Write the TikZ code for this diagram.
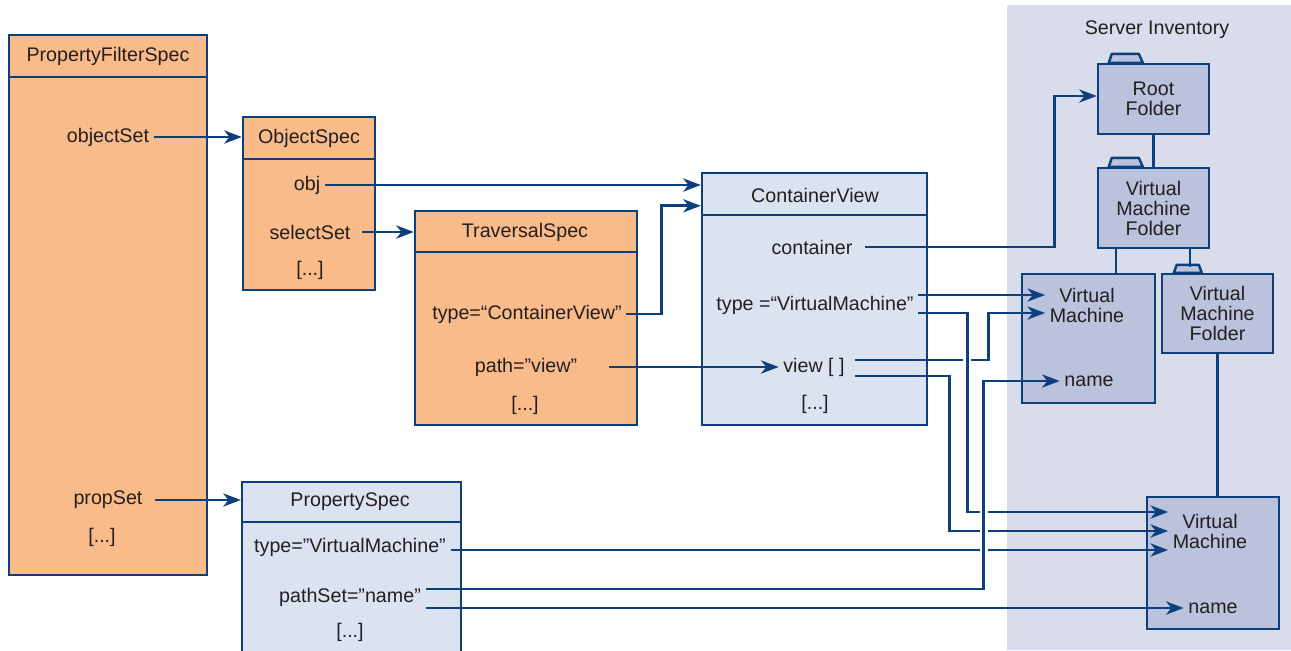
\documentclass[tikz,border=0pt]{standalone}
\usepackage{fontspec}
\setmainfont{Liberation Sans}
\usetikzlibrary{arrows.meta}

\begin{document}
\begin{tikzpicture}[x=0.02cm,y=-0.02cm,font=\fontsize{11.2}{11.4}\selectfont,
  every node/.style={text=textcolor,inner sep=2.5pt,align=center},
  classbox/.style={draw=linecolor,line width=1.4pt,inner sep=0pt},
  folder/.style={draw=linecolor,line width=1.4pt,fill=foldercolor,inner sep=0pt,minimum width=2.22cm},
  foldertab/.style={draw=linecolor,fill=foldercolor,line width=1.4pt,line join=round},
  bline/.style={draw=linecolor,line width=1.4pt},
  conn/.style={draw=linecolor,line width=1.5pt,-{Stealth[length=10pt,width=7.5pt,inset=3pt]}},
  halo/.style={draw=white,line width=4.5pt,shorten <=0.2cm,shorten >=0.2cm}]
\definecolor{linecolor}{RGB}{13,63,124}
\definecolor{textcolor}{RGB}{35,31,32}
\definecolor{orangecolor}{RGB}{249,187,137}
\definecolor{bluecolor}{RGB}{219,227,241}
\definecolor{invcolor}{RGB}{217,220,235}
\definecolor{foldercolor}{RGB}{186,194,220}
\useasboundingbox (0,0) rectangle (1291,650);
\clip (0,0) rectangle (1291,650);
\fill[invcolor] (1007,5) rectangle (1291,650);
\node (invtitle) at (1157,30) {Server Inventory};
\node[classbox,fill=orangecolor,minimum width=3.96cm,minimum height=10.8cm] (pfs) at (108,305) {};
\node[classbox,fill=orangecolor,minimum width=2.64cm,minimum height=3.46cm] (ospec) at (309,203.5) {};
\node[classbox,fill=orangecolor,minimum width=4.44cm,minimum height=4.28cm] (tspec) at (526,318) {};
\node[classbox,fill=bluecolor,minimum width=4.5cm,minimum height=5.04cm] (cview) at (814.5,299) {};
\node[classbox,fill=bluecolor,minimum width=4.38cm,minimum height=3.96cm] (pspec) at (351.5,581) {};
\draw[bline] ([yshift=-0.86cm]pfs.north west) -- ([yshift=-0.86cm]pfs.north east);
\draw[bline] ([yshift=-0.86cm]ospec.north west) -- ([yshift=-0.86cm]ospec.north east);
\draw[bline] ([yshift=-0.84cm]tspec.north west) -- ([yshift=-0.84cm]tspec.north east);
\draw[bline] ([yshift=-0.86cm]cview.north west) -- ([yshift=-0.86cm]cview.north east);
\draw[bline] ([yshift=-0.82cm]pspec.north west) -- ([yshift=-0.82cm]pspec.north east);
\node (pfstitle) at (108,56) {PropertyFilterSpec};
\node (objset) at (108,137) {objectSet};
\node (propset) at (108,500) {propSet};
\node (pfsmore) at (102,537) {[...]};
\node (ostitle) at (309,138) {ObjectSpec};
\node (objlbl) at (307,185) {obj};
\node (selset) at (310,232) {selectSet};
\node (osmore) at (310,270) {[...]};
\node (tstitle) at (525,232) {TraversalSpec};
\node (tstype) at (527,314) {type=“ContainerView”};
\node (tspath) at (526,367) {path=”view”};
\node (tsmore) at (525,405) {[...]};
\node (cvtitle) at (815,195) {ContainerView};
\node (cvcont) at (812,247) {container};
\node (cvtype) at (815,305) {type =“VirtualMachine”};
\node (cvview) at (814,367) {view [ ]};
\node (cvmore) at (815,404) {[...]};
\node (pstitle) at (350,502) {PropertySpec};
\node (pstype) at (350,547) {type=”VirtualMachine”};
\node (pspath) at (350,597) {pathSet=”name”};
\node (psmore) at (350,632) {[...]};
\node[folder,minimum height=1.4cm] (rootf) at (1153.5,99) {Root\\Folder};
\node[folder,minimum height=1.6cm] (vmf1) at (1153.5,208) {Virtual\\Machine\\Folder};
\node[folder,minimum height=1.58cm] (vmf2) at (1217.5,313.5) {Virtual\\Machine\\Folder};
\node[folder,minimum width=2.66cm,minimum height=2.58cm] (vm1) at (1088.5,338.5) {};
\node[folder,minimum width=2.64cm,minimum height=2.64cm] (vm2) at (1213,563) {};
\filldraw[foldertab] ([xshift=0.24cm]rootf.north west) -- ++(3,-9) -- ++(27,0) -- ++(4,9) -- cycle;
\filldraw[foldertab] ([xshift=0.24cm]vmf1.north west) -- ++(3,-9) -- ++(27,0) -- ++(4,9) -- cycle;
\filldraw[foldertab] ([xshift=0.26cm]vmf2.north west) -- ++(3,-8) -- ++(22,0) -- ++(3,8) -- cycle;
\draw[bline] (rootf.south) -- (vmf1.north);
\draw[bline] ([xshift=-0.75cm]vmf1.south) -- ++(0,26);
\draw[bline] ([xshift=0.73cm]vmf1.south) -- ++(0,18);
\draw[bline] (vmf2.south) -- (vmf2.south |- vm2.north);
\node (vm1lbl) at (1087,305) {Virtual\\Machine};
\node (vm1name) at (1089,381) {name};
\node (vm2lbl) at (1210,531) {Virtual\\Machine};
\node (vm2name) at (1213,608) {name};
\coordinate (tsbend) at ([xshift=-0.78cm,yshift=-0.68cm]cview.north west);
\coordinate (contbend) at ([xshift=-0.84cm,yshift=0.06cm]rootf.west);
\coordinate (cvtA) at ([yshift=0.2cm]cvtype.east);
\coordinate (cvtB) at ([yshift=-0.16cm]cvtype.east);
\coordinate (cvvA) at ([xshift=0.12cm,yshift=0.14cm]cvview.east);
\coordinate (cvvB) at ([xshift=0.12cm,yshift=-0.18cm]cvview.east);
\coordinate (pspA) at ([yshift=0.16cm]pspath.east);
\coordinate (pspB) at ([yshift=-0.22cm]pspath.east);
\coordinate (vm2inA) at ([yshift=0.38cm]vm2lbl.west);
\coordinate (vm2inC) at ([yshift=-0.38cm]vm2lbl.west);
\path (cview.east |- cvtB) ++(39,0) coordinate (typebend);
\path (cview.east |- cvvA) ++(60,0) coordinate (viewbendA);
\path (cview.east |- cvvB) ++(21,0) coordinate (viewbendB);
\path (vm1.west |- pspA) ++(-37,0) coordinate (namebend);
\draw[conn] (objset.east) -- (ospec.west |- objset.east);
\draw[conn] ([xshift=0.16cm]propset.east) -- (pspec.west |- propset.east);
\draw[conn] (objlbl.east) -- (cview.west |- objlbl.east);
\draw[conn] ([xshift=0.14cm]selset.east) -- (tspec.west |- selset.east);
\draw[conn] (tstype.east) -| (tsbend) -- (tsbend -| cview.west);
\draw[conn] ([xshift=0.54cm]tspath.east) -- (cvview.west);
\draw[conn] ([xshift=0.16cm]cvcont.east) -| (contbend) -- (contbend -| rootf.west);
\draw[conn] (cvtA) -- (cvtA -| vm1lbl.west);
\draw[conn] (cvvA) -- (viewbendA) |- (cvtB -| vm1lbl.west);
\draw[conn] (cvvB) -- (viewbendB) |- (vm2lbl.west);
\draw[conn] (pstype.east |- vm2inC) -- (vm2inC);
\draw[conn] (pspB) -- (pspB -| vm2name.west);
\draw[halo] (typebend) -- (typebend |- vm2inA);
\draw[conn] (cvtB) -- (typebend) |- (vm2inA);
\draw[halo] (namebend) -- (namebend |- vm1name.west);
\draw[conn] (pspA) -- (namebend) |- (vm1name.west);
\end{tikzpicture}
\end{document}
